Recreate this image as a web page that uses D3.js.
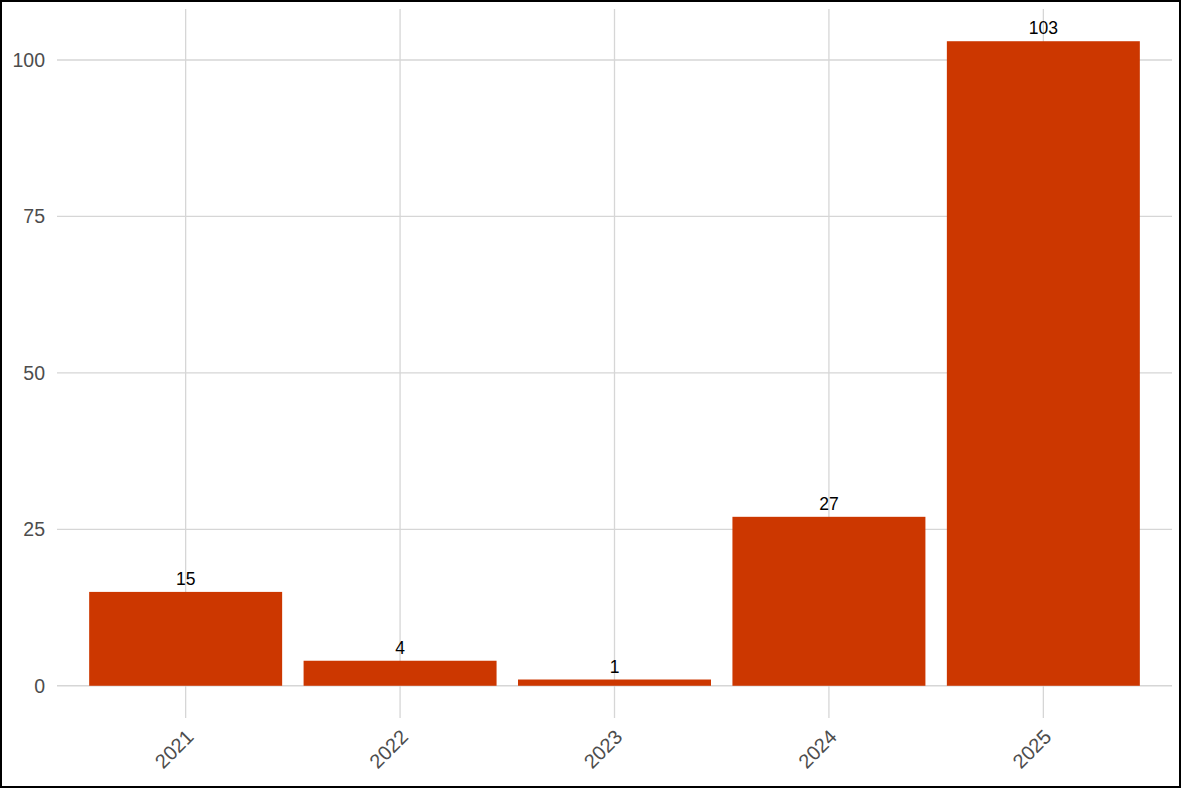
<!DOCTYPE html>
<html>
<head>
<meta charset="utf-8">
<script src="https://cdn.jsdelivr.net/npm/d3@7"></script>
<style>
  html, body { margin: 0; padding: 0; background: #fff; }
  svg { display: block; font-family: "Liberation Sans", Arial, sans-serif; }
</style>
</head>
<body>
<svg id="chart" width="1181" height="788"></svg>
<script>
// Yearly counts
const years = ["2021", "2022", "2023", "2024", "2025"];
const counts = [15, 4, 1, 27, 103];
const yTicks = [0, 25, 50, 75, 100];

const W = 1181, H = 788;
const panel = { left: 57, right: 1172, top: 9, bottom: 718 };

const svg = d3.select("#chart");

// Discrete x axis with 0.6 band expansion on each side
const step = (panel.right - panel.left) / (years.length - 1 + 1.2);
const x = d3.scalePoint()
  .domain(years)
  .range([panel.left + 0.6 * step, panel.right - 0.6 * step]);
const barW = 0.9 * step;

// Continuous y axis with 5% expansion
const yMax = d3.max(counts);
const pad = 0.05 * yMax;
const y = d3.scaleLinear()
  .domain([-pad, yMax + pad])
  .range([panel.bottom, panel.top]);

const grid = svg.append("g").attr("stroke", "#d6d6d6").attr("stroke-width", 1.3);

// Horizontal gridlines
grid.selectAll("line.h").data(yTicks).join("line")
  .attr("class", "h")
  .attr("x1", panel.left).attr("x2", panel.right)
  .attr("y1", d => y(d)).attr("y2", d => y(d));

// Vertical gridlines
grid.selectAll("line.v").data(years).join("line")
  .attr("class", "v")
  .attr("x1", d => x(d)).attr("x2", d => x(d))
  .attr("y1", panel.top).attr("y2", panel.bottom);

// Bars
svg.append("g").selectAll("rect").data(years).join("rect")
  .attr("x", d => x(d) - barW / 2)
  .attr("width", barW)
  .attr("y", (d, i) => y(counts[i]))
  .attr("height", (d, i) => y(0) - y(counts[i]))
  .attr("fill", "#cc3700");

// Value labels
svg.append("g").selectAll("text").data(years).join("text")
  .attr("x", d => x(d))
  .attr("y", (d, i) => y(counts[i]) - 7)
  .attr("text-anchor", "middle")
  .attr("font-size", 17.5)
  .attr("fill", "#000")
  .text((d, i) => counts[i]);

// Y tick labels
const yAxis = d3.axisLeft(y).tickValues(yTicks).tickSize(0).tickPadding(12);
const yg = svg.append("g").attr("transform", `translate(${panel.left},0)`).call(yAxis);
yg.select(".domain").remove();
yg.selectAll("text")
  .attr("font-size", 19.5)
  .attr("fill", "#4d4d4d")
  .attr("font-family", "Liberation Sans, Arial, sans-serif");

// X tick labels, rotated 45 degrees
svg.append("g").selectAll("text").data(years).join("text")
  .attr("transform", d => `translate(${x(d) - 1},${panel.bottom + 10}) rotate(-45)`)
  .attr("text-anchor", "end")
  .attr("dy", "0.72em")
  .attr("font-size", 20)
  .attr("fill", "#4d4d4d")
  .text(d => d);

// Outer frame
svg.append("rect")
  .attr("x", 1).attr("y", 1)
  .attr("width", W - 2).attr("height", H - 2)
  .attr("fill", "none")
  .attr("stroke", "#000")
  .attr("stroke-width", 2);
</script>
</body>
</html>
